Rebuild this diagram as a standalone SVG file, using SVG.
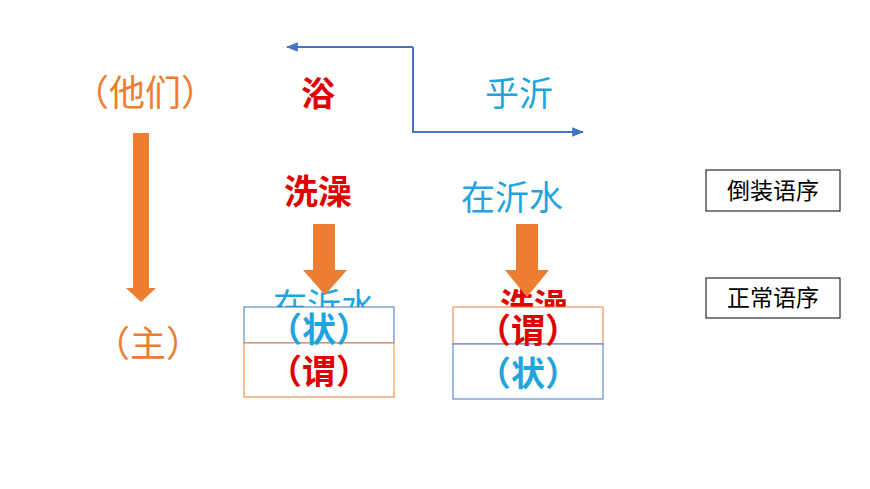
<svg xmlns="http://www.w3.org/2000/svg" width="870" height="489" viewBox="0 0 870 489">
<defs>
<style>
text{font-family:"Noto Sans CJK SC","Noto Sans",sans-serif;text-anchor:middle}
.o{fill:#ED7D31}.r{fill:#E00000;font-weight:bold}.b{fill:#1FA5DC}
.oa{fill:#ED7D31}
</style>
<marker id="ah" viewBox="0 0 10 10" refX="9" refY="5" markerWidth="6" markerHeight="6" orient="auto"><path d="M0,1 L10,5 L0,9 z" fill="#4472C4"/></marker>
</defs>
<rect width="870" height="489" fill="#fff"/>
<g id="connectors" fill="none" stroke="#4472C4" stroke-width="2">
<path d="M413,47 H287" marker-end="url(#ah)"/>
<path d="M413,47 V132 H583" marker-end="url(#ah)"/>
</g>
<g id="n-tamen"><text x="145" y="106" font-size="36" class="o">（他们）</text></g>
<g id="n-yu"><text x="318" y="106" font-size="34" class="r">浴</text></g>
<g id="n-huyi"><text x="519" y="106" font-size="34" class="b">乎沂</text></g>
<g id="n-xizao"><text x="318" y="204" font-size="34" class="r">洗澡</text></g>
<g id="n-zaiyishui"><text x="512" y="210" font-size="34" class="b">在沂水</text></g>
<g id="n-zhu"><text x="148" y="357" font-size="36" class="o">（主）</text></g>
<g id="n-hidden">
<text x="324" y="318" font-size="34" class="b">在沂水</text>
<text x="534" y="318" font-size="34" class="r">洗澡</text>
</g>
<g id="box-left">
<rect x="244" y="307" width="150" height="36" fill="#fff" stroke="#4472C4"/>
<rect x="244" y="343" width="150" height="54" fill="#fff" stroke="#ED7D31"/>
<text x="319" y="342" font-size="34" class="b" font-weight="bold">（状）</text>
<text x="319" y="384" font-size="34" class="r">（谓）</text>
</g>
<g id="box-right">
<rect x="453" y="307" width="150" height="37" fill="#fff" stroke="#ED7D31"/>
<rect x="453" y="344" width="150" height="55" fill="#fff" stroke="#4472C4"/>
<text x="528" y="343" font-size="34" class="r">（谓）</text>
<text x="528" y="386" font-size="34" class="b" font-weight="bold">（状）</text>
</g>
<g id="arrows">
<path class="oa" d="M133,133 H149 V288 H156 L141,302 L126,288 H133 Z"/>
<path class="oa" d="M313,224 H335 V270 H347 L325,295 L303,270 H313 Z"/>
<path class="oa" d="M516,224 H538 V270 H549 L527,297 L505,270 H516 Z"/>
</g>
<g id="n-daozhuang">
<rect x="706" y="170" width="134" height="41" fill="#fff" stroke="#000"/>
<text x="773" y="199" font-size="23" fill="#000">倒装语序</text>
</g>
<g id="n-zhengchang">
<rect x="706" y="278" width="134" height="40" fill="#fff" stroke="#000"/>
<text x="773" y="306" font-size="23" fill="#000">正常语序</text>
</g>
</svg>
